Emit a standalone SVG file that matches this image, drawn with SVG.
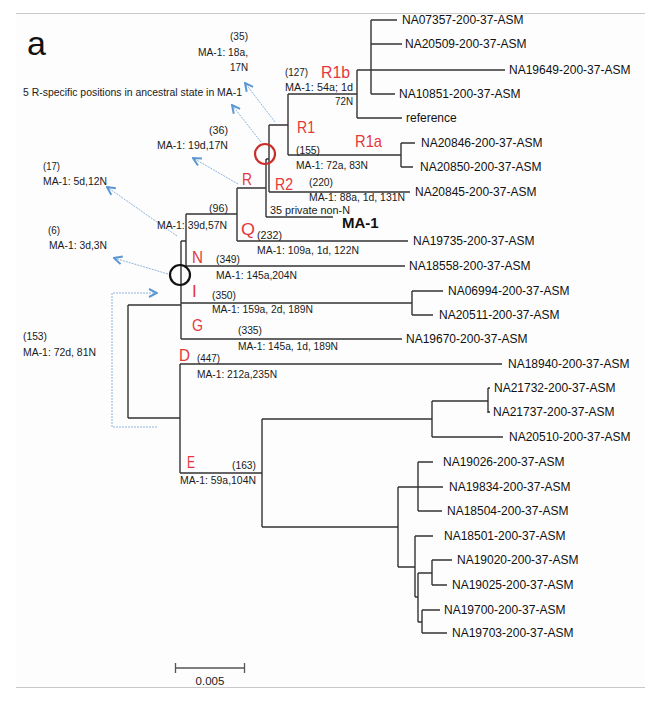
<svg xmlns="http://www.w3.org/2000/svg" width="667" height="701" viewBox="0 0 667 701">
<defs>
<style>
.br{stroke:#333;stroke-width:1.4;fill:none}
.leaf{font-family:"Liberation Sans",Arial,sans-serif;font-size:12px;fill:#111}
.ann{font-family:"Liberation Sans",Arial,sans-serif;font-size:11.5px;fill:#1a1a1a}
.red{font-family:"Liberation Sans",Arial,sans-serif;font-size:17px;fill:#e5383b}
.arr{stroke:#8db4dc;stroke-width:1;stroke-dasharray:2 1;fill:none;marker-end:url(#ah)}
.frame{stroke:#c8c8c8;stroke-width:1.2}
</style>
<marker id="ah" viewBox="0 0 10 10" refX="9" refY="5" markerWidth="10" markerHeight="10" markerUnits="userSpaceOnUse" orient="auto">
<path d="M1,1 L9,5 L1,9" fill="none" stroke="#5b97d1" stroke-width="2"/>
</marker>
</defs>
<rect x="16" y="13" width="629" height="674" fill="#fdfdfd"/>
<line class="frame" x1="16" y1="13.5" x2="645" y2="13.5"/>
<line class="frame" x1="16" y1="687.5" x2="645" y2="687.5"/>
<text x="27" y="55" font-family="Liberation Sans,Arial,sans-serif" font-size="34" fill="#111">a</text>

<g id="connectors">
<path class="br" d="M371,20 V94 M371,20 H397 M371,44 H402 M357,70 H505 M371,94 H395 M357,70 V118 M357,118 H402 M288,94 H357 M288,94 V155 M288,155 H401 M401,143 V167 M401,143 H415 M401,167 H413 M269,125 H288 M269,125 V192 M269,192 H410 M266,159 H269 M266,159 V217 M266,217 H333 M237,188 H266 M237,188 V241 M237,241 H408 M186,214 H237 M186,214 V266 M186,266 H405 M181,241 H186 M181,241 V339 M181,303 H412 M412,291 V315 M412,291 H443 M412,315 H433 M181,339 H402 M128,305 H181 M128,305 V418 M128,418 H180 M180,364 V473 M180,364 H502 M180,473 H262 M262,419 V527 M262,419 H432 M432,401 V437 M432,401 H488 M488,388 V413 M488,388 H490 M488,412 H490 M432,437 H503 M262,527 H398 M398,487 V567 M398,487 H443 M418,462 V511 M418,462 H433 M418,511 H442 M398,567 H415 M415,536 V597 M415,536 H433 M415,597 H418 M418,573 V622 M418,573 H432 M432,560 V585 M432,560 H452 M432,585 H447 M418,622 H422 M422,610 V633 M422,610 H440 M422,633 H447"/>
<g id="arrows">
<path class="arr" d="M275,122 L245,83"/>
<path class="arr" d="M261,142 L232,105"/>
<path class="arr" d="M238,184 L193,158"/>
<path class="arr" d="M177,236 L107,187"/>
<path class="arr" d="M168,274 L114,258"/>
<path class="arr" d="M157,427 H112 V293 H157"/>
</g>
</g>

<g id="circle-R"><circle cx="265" cy="154" r="10" fill="none" stroke="#c9302c" stroke-width="2.2"/></g>
<g id="circle-root"><circle cx="180" cy="275" r="10" fill="none" stroke="#111" stroke-width="2.2"/></g>

<g id="leaves">
<g id="NA07357"><text class="leaf" x="402" y="24">NA07357-200-37-ASM</text></g>
<g id="NA20509"><text class="leaf" x="405" y="48">NA20509-200-37-ASM</text></g>
<g id="NA19649"><text class="leaf" x="509" y="74">NA19649-200-37-ASM</text></g>
<g id="NA10851"><text class="leaf" x="399" y="98">NA10851-200-37-ASM</text></g>
<g id="reference"><text class="leaf" x="406" y="122">reference</text></g>
<g id="NA20846"><text class="leaf" x="421" y="147">NA20846-200-37-ASM</text></g>
<g id="NA20850"><text class="leaf" x="420" y="171">NA20850-200-37-ASM</text></g>
<g id="NA20845"><text class="leaf" x="415" y="196">NA20845-200-37-ASM</text></g>
<g id="MA-1"><text x="342" y="228" font-family="Liberation Sans,Arial,sans-serif" font-size="15" font-weight="bold" fill="#111">MA-1</text></g>
<g id="NA19735"><text class="leaf" x="413" y="245">NA19735-200-37-ASM</text></g>
<g id="NA18558"><text class="leaf" x="409" y="270">NA18558-200-37-ASM</text></g>
<g id="NA06994"><text class="leaf" x="448" y="295">NA06994-200-37-ASM</text></g>
<g id="NA20511"><text class="leaf" x="439" y="319">NA20511-200-37-ASM</text></g>
<g id="NA19670"><text class="leaf" x="406" y="343">NA19670-200-37-ASM</text></g>
<g id="NA18940"><text class="leaf" x="508" y="368">NA18940-200-37-ASM</text></g>
<g id="NA21732"><text class="leaf" x="494" y="392">NA21732-200-37-ASM</text></g>
<g id="NA21737"><text class="leaf" x="493" y="416">NA21737-200-37-ASM</text></g>
<g id="NA20510"><text class="leaf" x="509" y="441">NA20510-200-37-ASM</text></g>
<g id="NA19026"><text class="leaf" x="443" y="466">NA19026-200-37-ASM</text></g>
<g id="NA19834"><text class="leaf" x="449" y="491">NA19834-200-37-ASM</text></g>
<g id="NA18504"><text class="leaf" x="447" y="515">NA18504-200-37-ASM</text></g>
<g id="NA18501"><text class="leaf" x="444" y="540">NA18501-200-37-ASM</text></g>
<g id="NA19020"><text class="leaf" x="457" y="564">NA19020-200-37-ASM</text></g>
<g id="NA19025"><text class="leaf" x="452" y="589">NA19025-200-37-ASM</text></g>
<g id="NA19700"><text class="leaf" x="444" y="614">NA19700-200-37-ASM</text></g>
<g id="NA19703"><text class="leaf" x="452" y="637">NA19703-200-37-ASM</text></g>
</g>

<g id="clade-R1b">
<text class="red" x="321" y="78" textLength="29" lengthAdjust="spacingAndGlyphs">R1b</text>
<text class="ann" x="285" y="76" textLength="23" lengthAdjust="spacingAndGlyphs">(127)</text>
<text class="ann" x="285" y="91" textLength="68" lengthAdjust="spacingAndGlyphs">MA-1:  54a; 1d</text>
<text class="ann" x="335" y="105" textLength="18" lengthAdjust="spacingAndGlyphs">72N</text>
</g>
<g id="clade-R1">
<text class="red" x="297" y="133" textLength="18" lengthAdjust="spacingAndGlyphs">R1</text>
</g>
<g id="clade-R1a">
<text class="red" x="355" y="147" textLength="27" lengthAdjust="spacingAndGlyphs">R1a</text>
<text class="ann" x="296" y="154" textLength="24" lengthAdjust="spacingAndGlyphs">(155)</text>
<text class="ann" x="296" y="169" textLength="72" lengthAdjust="spacingAndGlyphs">MA-1: 72a, 83N</text>
</g>
<g id="clade-R2">
<text class="red" x="275" y="190" textLength="18" lengthAdjust="spacingAndGlyphs">R2</text>
<text class="ann" x="309" y="186" textLength="24" lengthAdjust="spacingAndGlyphs">(220)</text>
<text class="ann" x="309" y="201" textLength="96" lengthAdjust="spacingAndGlyphs">MA-1: 88a, 1d, 131N</text>
</g>
<g id="branch-MA1">
<text class="ann" x="270" y="214" textLength="80" lengthAdjust="spacingAndGlyphs">35 private non-N</text>
</g>
<g id="clade-R">
<text class="red" x="242" y="185" textLength="10" lengthAdjust="spacingAndGlyphs">R</text>
</g>
<g id="clade-QR">
<text class="ann" x="209" y="212" textLength="19" lengthAdjust="spacingAndGlyphs">(96)</text>
<text class="ann" x="157" y="229" textLength="70" lengthAdjust="spacingAndGlyphs">MA-1: 39d,57N</text>
</g>
<g id="clade-Q">
<text class="red" x="241" y="235" textLength="14" lengthAdjust="spacingAndGlyphs">Q</text>
<text class="ann" x="257" y="239" textLength="25" lengthAdjust="spacingAndGlyphs">(232)</text>
<text class="ann" x="257" y="254" textLength="102" lengthAdjust="spacingAndGlyphs">MA-1: 109a, 1d, 122N</text>
</g>
<g id="clade-N">
<text class="red" x="192" y="263" textLength="11" lengthAdjust="spacingAndGlyphs">N</text>
<text class="ann" x="216" y="263" textLength="24" lengthAdjust="spacingAndGlyphs">(349)</text>
<text class="ann" x="216" y="279" textLength="81" lengthAdjust="spacingAndGlyphs">MA-1: 145a,204N</text>
</g>
<g id="clade-I">
<text class="red" x="192" y="297">I</text>
<text class="ann" x="212" y="299" textLength="24" lengthAdjust="spacingAndGlyphs">(350)</text>
<text class="ann" x="212" y="313" textLength="101" lengthAdjust="spacingAndGlyphs">MA-1: 159a, 2d, 189N</text>
</g>
<g id="clade-G">
<text class="red" x="192" y="331" textLength="11" lengthAdjust="spacingAndGlyphs">G</text>
<text class="ann" x="238" y="334" textLength="24" lengthAdjust="spacingAndGlyphs">(335)</text>
<text class="ann" x="238" y="350" textLength="100" lengthAdjust="spacingAndGlyphs">MA-1: 145a, 1d, 189N</text>
</g>
<g id="clade-D">
<text class="red" x="179" y="361" textLength="11" lengthAdjust="spacingAndGlyphs">D</text>
<text class="ann" x="197" y="362" textLength="23" lengthAdjust="spacingAndGlyphs">(447)</text>
<text class="ann" x="197" y="378" textLength="80" lengthAdjust="spacingAndGlyphs">MA-1: 212a,235N</text>
</g>
<g id="clade-E">
<text class="red" x="187" y="468" textLength="8" lengthAdjust="spacingAndGlyphs">E</text>
<text class="ann" x="232" y="469" textLength="24" lengthAdjust="spacingAndGlyphs">(163)</text>
<text class="ann" x="180" y="484" textLength="76" lengthAdjust="spacingAndGlyphs">MA-1: 59a,104N</text>
</g>

<g id="note-35">
<text class="ann" x="230" y="40" textLength="18" lengthAdjust="spacingAndGlyphs">(35)</text>
<text class="ann" x="198" y="56" textLength="50" lengthAdjust="spacingAndGlyphs">MA-1: 18a,</text>
<text class="ann" x="230" y="71" textLength="18" lengthAdjust="spacingAndGlyphs">17N</text>
</g>
<g id="note-Rspecific">
<text class="ann" x="23" y="96" textLength="219" lengthAdjust="spacingAndGlyphs">5 R-specific positions in ancestral state in MA-1</text>
</g>
<g id="note-36">
<text class="ann" x="209" y="134" textLength="19" lengthAdjust="spacingAndGlyphs">(36)</text>
<text class="ann" x="157" y="149" textLength="71" lengthAdjust="spacingAndGlyphs">MA-1: 19d,17N</text>
</g>
<g id="note-17">
<text class="ann" x="43" y="170" textLength="17" lengthAdjust="spacingAndGlyphs">(17)</text>
<text class="ann" x="43" y="185" textLength="64" lengthAdjust="spacingAndGlyphs">MA-1: 5d,12N</text>
</g>
<g id="note-6">
<text class="ann" x="48" y="234" textLength="12" lengthAdjust="spacingAndGlyphs">(6)</text>
<text class="ann" x="49" y="249" textLength="58" lengthAdjust="spacingAndGlyphs">MA-1: 3d,3N</text>
</g>
<g id="note-153">
<text class="ann" x="23" y="340" textLength="24" lengthAdjust="spacingAndGlyphs">(153)</text>
<text class="ann" x="23" y="356" textLength="73" lengthAdjust="spacingAndGlyphs">MA-1: 72d, 81N</text>
</g>

<g id="scale-bar">
<path d="M175,668 H245 M175.5,663 V673 M244.5,663 V673" stroke="#555" stroke-width="1.3" fill="none"/>
<text class="ann" x="210" y="685" text-anchor="middle">0.005</text>
</g>
</svg>
